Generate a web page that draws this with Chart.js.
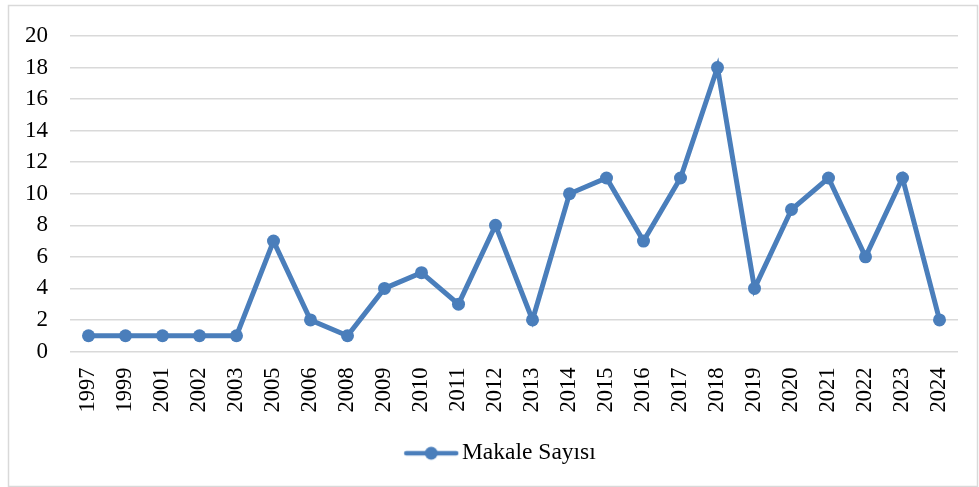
<!DOCTYPE html>
<html>
<head>
<meta charset="utf-8">
<script src="https://cdn.jsdelivr.net/npm/chart.js@4.4.1/dist/chart.umd.min.js"></script>
<style>
  html, body { margin: 0; padding: 0; background: #fff; }
  #wrap { width: 979px; height: 487px; position: relative; }
</style>
</head>
<body>
<div id="wrap"><canvas id="myChart" width="979" height="487"></canvas></div>
<script>
const years = ["1997", "1999", "2001", "2002", "2003", "2005", "2006", "2008", "2009", "2010", "2011", "2012",
  "2013", "2014", "2015", "2016", "2017", "2018", "2019", "2020", "2021", "2022", "2023", "2024"];
const makaleSayisi = [1, 1, 1, 1, 1, 7, 2, 1, 4, 5, 3, 8, 2, 10, 11, 7, 11, 18, 4, 9, 11, 6, 11, 2];
const yTicks = [0, 2, 4, 6, 8, 10, 12, 14, 16, 18, 20];

const blue = "#4a7ebb";
const font = "'Liberation Serif', 'Times New Roman', serif";

// legend marker: line with a dot in the middle
// (blank strip on the left pushes the legend item a bit right, like the original)
const shift = 50;
const marker = document.createElement("canvas");
marker.width = 56 + shift;
marker.height = 16;
const m = marker.getContext("2d");
m.strokeStyle = blue;
m.lineWidth = 4.5;
m.lineCap = "round";
m.beginPath();
m.moveTo(shift + 3, 8);
m.lineTo(shift + 53, 8);
m.stroke();
m.fillStyle = blue;
m.beginPath();
m.arc(shift + 28, 8, 6.5, 0, Math.PI * 2);
m.fill();

const frame = {
  id: "frame",
  afterDraw(chart) {
    const c = chart.ctx;
    c.save();
    c.strokeStyle = "#d9d9d9";
    c.lineWidth = 1.5;
    c.strokeRect(8.5, 5.5, 969, 481);
    c.restore();
  },
};

const ctx = document.getElementById("myChart");

new Chart(ctx, {
  type: "line",
  data: {
    labels: years,
    datasets: [
      {
        label: "Makale Sayısı",
        data: makaleSayisi,
        borderColor: blue,
        backgroundColor: blue,
        borderWidth: 5,
        pointRadius: 6.5,
        pointHoverRadius: 6.5,
        pointBorderWidth: 0,
        tension: 0,
        pointStyle: "circle",
      },
    ],
  },
  options: {
    responsive: false,
    animation: false,
    layout: {
      padding: { left: 0, right: 21, top: 36, bottom: 12 },
    },
    plugins: {
      tooltip: { enabled: false },
      legend: {
        position: "bottom",
        labels: {
          usePointStyle: true,
          pointStyleWidth: 38 + shift,
          generateLabels: (chart) => [{
            text: "Makale Sayısı",
            pointStyle: marker,
            fillStyle: blue,
            strokeStyle: blue,
            lineWidth: 0,
            datasetIndex: 0,
          }],
          color: "#000",
          font: { family: font, size: 23.5 },
          padding: 10,
        },
      },
    },
    scales: {
      x: {
        offset: true,
        grid: { display: false, drawTicks: false },
        border: { display: false },
        ticks: {
          color: "#000",
          font: { family: font, size: 22.5 },
          minRotation: 90,
          maxRotation: 90,
          autoSkip: false,
          padding: 16,
        },
        afterFit: (scale) => {
          scale.height = 80;
          scale.paddingLeft = 0;
          scale.paddingRight = 0;
        },
      },
      y: {
        min: 0,
        max: 20,
        afterBuildTicks: (scale) => { scale.ticks = yTicks.map((v) => ({ value: v })); },
        grid: { color: "#d9d9d9", lineWidth: 1.5, drawTicks: false },
        border: { display: false },
        ticks: {
          color: "#000",
          font: { family: font, size: 23 },
          padding: 22,
        },
        afterFit: (scale) => { scale.width = 70; },
      },
    },
  },
  plugins: [frame],
});
</script>
</body>
</html>
